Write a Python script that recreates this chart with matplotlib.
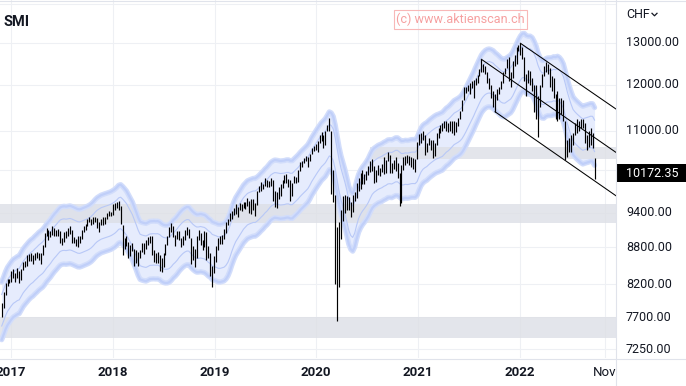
import numpy as np
import pandas as pd
import matplotlib
matplotlib.use("Agg")
import matplotlib.pyplot as plt
import matplotlib.dates as mdates
from matplotlib.patches import Rectangle
from matplotlib.lines import Line2D

plt.rcParams['font.family'] = ['Roboto', 'DejaVu Sans']

# weekly SMI bars (high / low), first bar = week of 2016-11-28
first_week = '2016-11-28'

hi_2016 = [7910, 8080, 8230, 8280, 8290]
lo_2016 = [7710, 7840, 8030, 8170, 8220]

hi_2017 = [8420, 8440, 8380, 8460, 8420, 8450, 8560, 8580, 8680, 8690, 8700, 8680, 8700,
           8730, 8700, 8700, 8850, 9050, 9140, 9100, 9080, 9160, 9140, 9100, 9120, 9080,
           8960, 9060, 9080, 9130, 9160, 9100, 8980, 8950, 9000, 9000, 9090, 9170, 9200,
           9290, 9320, 9300, 9330, 9330, 9310, 9230, 9300, 9320, 9330, 9390, 9430, 9420]
lo_2017 = [8240, 8310, 8240, 8300, 8220, 8270, 8430, 8480, 8500, 8580, 8580, 8530, 8590,
           8620, 8600, 8520, 8670, 8800, 9000, 8920, 8980, 9020, 9000, 8990, 8990, 8870,
           8850, 8900, 8960, 9000, 9030, 8880, 8870, 8820, 8800, 8880, 8950, 9070, 9100,
           9160, 9230, 9180, 9200, 9230, 9140, 9070, 9180, 9180, 9200, 9290, 9350, 9340]

hi_2018 = [9560, 9580, 9600, 9620, 9520, 9180, 8960, 8990, 8900, 8850, 8880, 8780, 8760,
           8720, 8760, 8880, 8870, 8920, 8970, 9000, 9000, 8760, 8700, 8720, 8680, 8620,
           8700, 8860, 9000, 9150, 9220, 9170, 9010, 9080, 9080, 8960, 9000, 9100, 9150,
           9120, 8960, 8820, 8780, 9000, 9100, 9050, 8930, 9080, 9060, 8820, 8700, 8500, 8650]
lo_2018 = [9360, 9450, 9480, 9450, 9200, 8680, 8780, 8830, 8620, 8650, 8740, 8500, 8540,
           8500, 8620, 8720, 8690, 8770, 8850, 8870, 8680, 8560, 8540, 8550, 8420, 8400,
           8480, 8680, 8850, 8980, 9060, 8970, 8820, 8940, 8930, 8800, 8850, 8930, 9020,
           8960, 8520, 8600, 8480, 8620, 8930, 8850, 8750, 8800, 8600, 8620, 8340, 8160, 8380]

hi_2019 = [8820, 8960, 9000, 9010, 9120, 9230, 9290, 9400, 9440, 9490, 9560, 9500, 9580,
           9560, 9600, 9600, 9680, 9620, 9650, 9660, 9580, 9800, 9890, 9970, 9940, 10050,
           10000, 9990, 10040, 10010, 9800, 9780, 9870, 9930, 10000, 10100, 10130, 10020,
           10000, 9950, 10080, 10070, 10200, 10350, 10370, 10440, 10470, 10450, 10520,
           10640, 10670, 10720]
lo_2019 = [8560, 8760, 8860, 8860, 8950, 9050, 9180, 9260, 9300, 9360, 9380, 9330, 9450,
           9440, 9490, 9470, 9530, 9390, 9380, 9450, 9350, 9540, 9780, 9800, 9830, 9900,
           9870, 9880, 9900, 9620, 9500, 9480, 9660, 9700, 9850, 9950, 9960, 9880,
           9620, 9700, 9950, 9960, 9980, 10180, 10260, 10330, 10370, 10260, 10380,
           10520, 10580, 10600]

hi_2020 = [10780, 10900, 10960, 10900, 11000, 11120, 11270, 11000, 10200, 9730, 9150, 9230,
           9450, 9700, 9720, 9700, 9690, 9600, 9730, 9790, 9960, 10050, 10150, 10200, 10130,
           10180, 10280, 10370, 10420, 10280, 10200, 10300, 10240, 10320, 10450, 10400, 10550,
           10500, 10340, 10400, 10450, 10340, 10150, 10300, 10450, 10470, 10500, 10480, 10450,
           10430, 10420, 10760]
lo_2020 = [10560, 10750, 10790, 10630, 10700, 10980, 10990, 9750, 9600, 8200, 7650, 8160,
           8950, 9250, 9400, 9450, 9450, 9330, 9410, 9620, 9680, 9800, 9830, 9940, 9930,
           10010, 10100, 10170, 10180, 9950, 9980, 10100, 10080, 10160, 10130, 10150, 10380,
           10150, 10150, 10220, 10180, 10050, 9520, 9580, 10200, 10300, 10330, 10300, 10270,
           10230, 10170, 10420]

hi_2021 = [10920, 10950, 10980, 10900, 10750, 10850, 10800, 10800, 10750, 10950, 11050, 11120,
           11150, 11200, 11200, 11150, 11200, 11200, 11200, 11170, 11260, 11420, 11650, 11950,
           11950, 12000, 12040, 12100, 12120, 12160, 12220, 12380, 12600, 12500, 12450, 12300,
           12150, 12000, 11850, 11800, 11900, 11950, 12100, 12300, 12400, 12600, 12650, 12300,
           12550, 12700, 12900, 12950]
lo_2021 = [10700, 10750, 10800, 10500, 10550, 10700, 10600, 10440, 10470, 10700, 10850, 10950,
           11000, 11050, 11000, 10970, 11000, 10950, 10900, 10970, 11100, 11250, 11420, 11650,
           11820, 11850, 11800, 11920, 11700, 12000, 12050, 12200, 12300, 12300, 12250, 12050,
           11900, 11700, 11500, 11400, 11650, 11800, 11900, 12050, 12250, 12400, 12100, 11950,
           12150, 12450, 12500, 12800]

hi_2022 = [13000, 12900, 12650, 12250, 12350, 12320, 12150, 12000, 12000, 11750, 12000, 12250,
           12450, 12540, 12480, 12400, 12200, 12150, 11800, 11850, 11700, 11700, 11650, 11200,
           10800, 10850, 10900, 10950, 11150, 11250, 11200, 11250, 11250, 11150, 10900, 11000,
           11050, 10950, 10440]
lo_2022 = [12700, 12600, 12100, 11750, 12050, 12000, 11850, 11400, 11250, 10860, 11500, 11950,
           12200, 12300, 12250, 11950, 11850, 11700, 11250, 11200, 11250, 11350, 11200, 10400,
           10450, 10550, 10550, 10700, 10900, 10950, 11000, 11050, 11050, 10750, 10600, 10650,
           10700, 10640, 10030]

last_close = 10172.35

# support / resistance zones (low, high, start)
zone_low = [10422, 9212, 7400]
zone_high = [10653, 9561, 7708]
zone_start = ['2020-07-13', '2016-11-01', '2016-11-01']

# trend channel anchors
chan_start_date = ['2022-01-03', '2021-08-16', '2021-10-04']
chan_start_val = [12992, 12600, 11400]
chan_end_val = [11460, 10550, 9712]

price_ticks = [13000, 12000, 11000, 9400, 8800, 8200, 7700, 7250]
grid_vals = [14000, 13000, 12000, 11000, 10200, 9400, 8800, 8200, 7700, 7250]
year_labels = ['2017', '2018', '2019', '2020', '2021', '2022']

highs = np.array(hi_2016 + hi_2017 + hi_2018 + hi_2019 + hi_2020 + hi_2021 + hi_2022, float)
lows = np.array(lo_2016 + lo_2017 + lo_2018 + lo_2019 + lo_2020 + lo_2021 + lo_2022, float)
dates = pd.date_range(first_week, periods=len(highs), freq='7D')
xd = mdates.date2num(dates)

# envelope around a 10 week moving average
mid = pd.Series((highs + lows) / 2).rolling(10, min_periods=1).mean().values

W, H = 686, 386
fig = plt.figure(figsize=(W / 100, H / 100), dpi=100)
ax = fig.add_axes([0, (H - 358) / H, 616 / W, 358 / H])
ax.set_yscale('log')
x_left = mdates.date2num(pd.Timestamp('2016-11-22'))
x_right = x_left + 2211
ax.set_xlim(x_left, x_right)
ax.set_ylim(7127, 14110)
ax.set_axis_off()

grid_c = '#eef0f4'
for v in grid_vals:
    ax.axhline(v, color=grid_c, lw=0.8, zorder=0)
for y in year_labels:
    ax.axvline(mdates.date2num(pd.Timestamp(y + '-01-01')), color=grid_c, lw=0.8, zorder=0)
ax.axvline(mdates.date2num(pd.Timestamp('2022-11-01')), color=grid_c, lw=0.8, zorder=0)

# band
ax.fill_between(xd, mid * 0.945, mid * 1.055, color='#e6ecfd', lw=0, zorder=1)

for lo, hi, st in zip(zone_low, zone_high, zone_start):
    x0 = max(mdates.date2num(pd.Timestamp(st)), x_left)
    ax.add_patch(Rectangle((x0, lo), x_right - x0, hi - lo, color='#dddfe6', alpha=0.8,
                           lw=0, zorder=2))

for f in (0.945, 1.055):
    ax.plot(xd, mid * f, color='#d2ddfb', lw=3.8, solid_capstyle='round', zorder=3)
    ax.plot(xd, mid * f, color='#c0cff9', lw=1.6, zorder=3)
for f in (0.97, 1.03):
    ax.plot(xd, mid * f, color='#b8c8f7', lw=0.8, zorder=3)

ax.vlines(xd, lows, highs, color='black', lw=0.85, zorder=4)

for d, v0, v1 in zip(chan_start_date, chan_start_val, chan_end_val):
    ax.plot([mdates.date2num(pd.Timestamp(d)), x_right], [v0, v1], color='black', lw=0.75,
            zorder=5)

# frame lines
sep = '#e0e3eb'
fig.add_artist(Line2D([616 / W, 616 / W], [0, 1], transform=fig.transFigure, color=sep, lw=0.8))
fig.add_artist(Line2D([0, 1], [1 - 358.5 / H] * 2, transform=fig.transFigure, color=sep, lw=0.8))
fig.add_artist(Line2D([0, 1], [1 - 0.5 / H] * 2, transform=fig.transFigure, color=sep, lw=0.8))

txt_c = '#131722'
ytr = ax.get_yaxis_transform()
for v in price_ticks:
    ax.text(626 / 616, v, f'{v:.2f}', transform=ytr, ha='left', va='center', fontsize=9,
            color=txt_c, clip_on=False)

# last price marker
fig.add_artist(Rectangle((616 / W, 1 - 182 / H), 70 / W, 18 / H, transform=fig.transFigure,
                         color='black', lw=0))
fig.text(626 / W, 1 - 173 / H, f'{last_close:.2f}', ha='left', va='center', fontsize=9,
         color='white')

fig.text(626 / W, 1 - 15 / H, 'CHF', ha='left', va='center', fontsize=9, color=txt_c)
fig.add_artist(Line2D([652 / W, 654.5 / W, 657 / W], [1 - 13.3 / H, 1 - 15.8 / H, 1 - 13.3 / H],
                      transform=fig.transFigure, color=txt_c, lw=0.9))

xtr = ax.get_xaxis_transform()
for y in year_labels:
    ax.text(mdates.date2num(pd.Timestamp(y + '-01-01')), -14 / 358, y, transform=xtr,
            ha='center', va='center', fontsize=9.5, fontweight='bold', color=txt_c, clip_on=False)
ax.text(mdates.date2num(pd.Timestamp('2022-11-01')), -14 / 358, 'Nov', transform=xtr,
        ha='center', va='center', fontsize=9.5, color=txt_c, clip_on=False)

ax.text(4 / 616, 1 - 22 / 358, 'SMI', transform=ax.transAxes, ha='left', va='center',
        fontsize=10.5, fontweight='bold', color=txt_c)

fig.text(460.5 / W, 1 - 19.5 / H, '(c) www.aktienscan.ch', ha='center', va='center',
         fontsize=9.1, color='#f6a0a0',
         bbox=dict(boxstyle='square,pad=0.2', fc='none', ec='#f8b8b8', lw=0.8))

fig.savefig('out.png', dpi=100)
